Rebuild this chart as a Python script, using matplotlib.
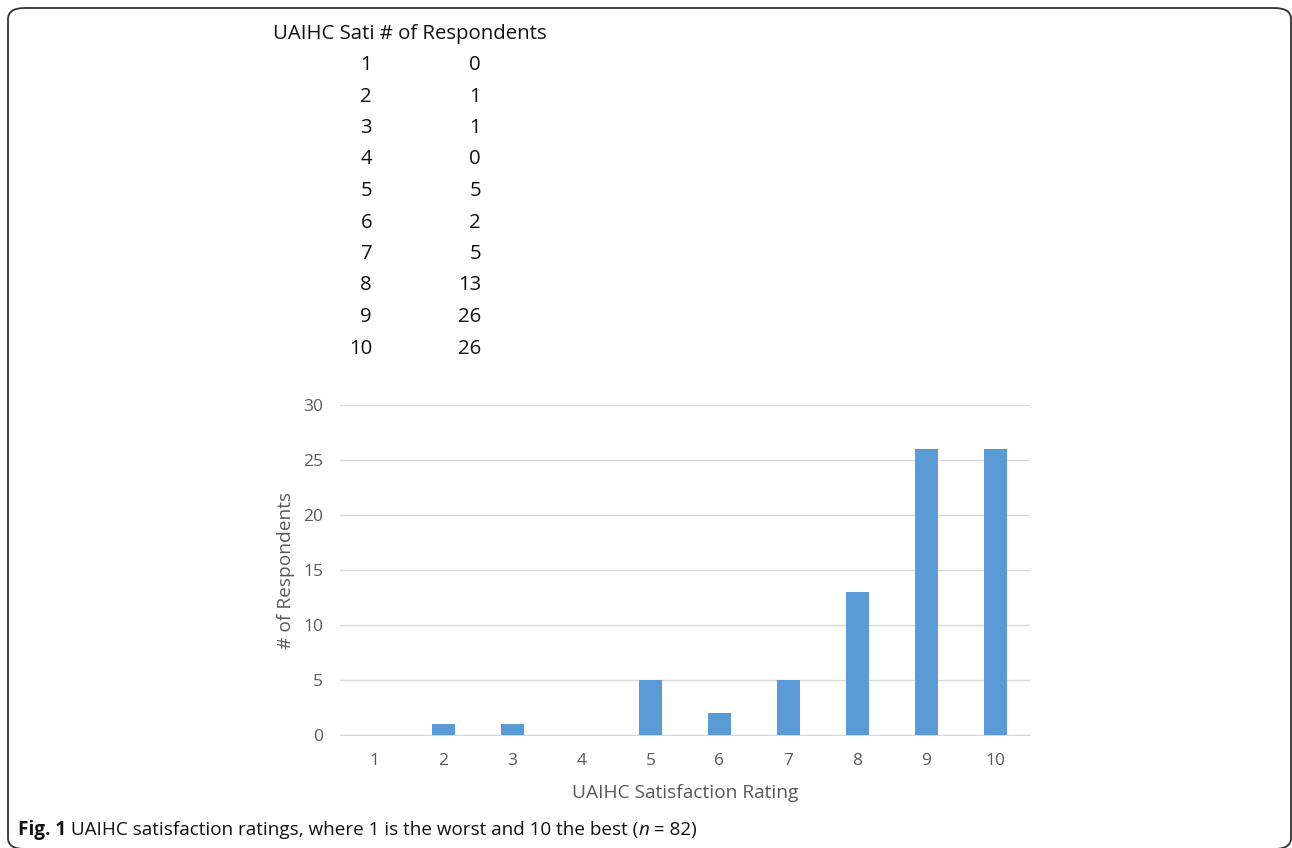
import matplotlib
matplotlib.use("Agg")
import matplotlib.pyplot as plt
from matplotlib.patches import FancyBboxPatch

ratings = [1, 2, 3, 4, 5, 6, 7, 8, 9, 10]
respondents = [0, 1, 1, 0, 5, 2, 5, 13, 26, 26]
y_ticks = [0, 5, 10, 15, 20, 25, 30]
header = ["UAIHC Sati", "# of Respondents"]

plt.rcParams['font.family'] = ['Open Sans', 'DejaVu Sans']

W, H = 1292, 848
fig = plt.figure(figsize=(W / 100, H / 100), dpi=100)


def fx(px):
    return px / W


def fy(py):
    return 1 - py / H


# rounded frame round the whole figure (runs off the right and bottom edge a bit)
frame = FancyBboxPatch((fx(8), fy(849)), fx(1291) - fx(8), fy(8) - fy(849),
                       boxstyle="round,pad=0,rounding_size=0.013",
                       transform=fig.transFigure, fill=False,
                       edgecolor="#333333", linewidth=1.3)
fig.patches.append(frame)

# the pasted data table above the chart
fig.text(fx(273), fy(34), header[0] + " " + header[1], fontsize=14.7,
         va="center", ha="left", color="#111111")
for i, (r, n) in enumerate(zip(ratings, respondents)):
    yy = fy(65 + i * 31.5)
    fig.text(fx(372), yy, str(r), fontsize=14.7, va="center", ha="right", color="#111111")
    fig.text(fx(481), yy, str(n), fontsize=14.7, va="center", ha="right", color="#111111")

# chart
ax = fig.add_axes([fx(340), fy(735), fx(1030) - fx(340), fy(405) - fy(735)])
ax.bar(ratings, respondents, width=0.32, color="#5B9BD5", zorder=3)
ax.set_xlim(0.5, 10.5)
ax.set_ylim(0, 30)
ax.set_yticks(y_ticks)
ax.set_xticks(ratings)
ax.grid(axis="y", color="#D9D9D9", linewidth=1, zorder=0)
for s in ["top", "right", "left"]:
    ax.spines[s].set_visible(False)
ax.spines["bottom"].set_color("#D9D9D9")
ax.tick_params(length=0, colors="#595959", labelsize=12.5)
ax.tick_params(axis="y", pad=12)
ax.tick_params(axis="x", pad=13)
ax.set_xlabel("UAIHC Satisfaction Rating", fontsize=13.8, color="#595959", labelpad=11)
ax.set_ylabel("# of Respondents", fontsize=13.8, color="#595959", labelpad=6)

# caption with mixed styles
fig.canvas.draw()
renderer = fig.canvas.get_renderer()
pieces = [("Fig. 1", "bold", "normal"),
          (" UAIHC satisfaction ratings, where 1 is the worst and 10 the best (", "normal", "normal"),
          ("n", "normal", "italic"),
          (" = 82)", "normal", "normal")]
x = fx(18)
for txt, wt, st in pieces:
    t = fig.text(x, fy(830), txt, fontsize=13.6, fontweight=wt, fontstyle=st,
                 va="center", ha="left", color="#111111")
    bb = t.get_window_extent(renderer)
    x += bb.width / W

fig.savefig("out.png", dpi=100)
